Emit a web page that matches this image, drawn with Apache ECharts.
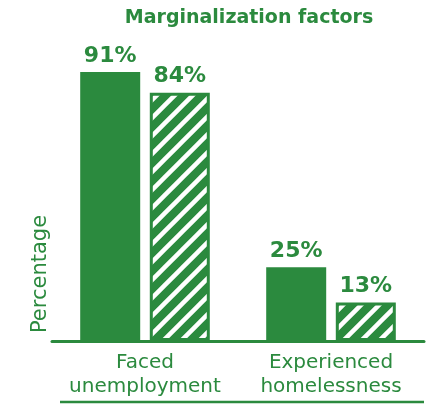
<!DOCTYPE html>
<html>
<head>
<meta charset="utf-8">
<script src="https://cdn.jsdelivr.net/npm/echarts@6/dist/echarts.min.js"></script>
<style>
  html, body { margin: 0; padding: 0; background: #fff; }
  #chart { width: 442px; height: 413px; }
</style>
</head>
<body>
<div id="chart"></div>
<script>
const categories = ['Faced\nunemployment', 'Experienced\nhomelessness']
const solidValues = [91, 25]
const hatchedValues = [84, 13]

const green = '#2b8a3e'
const font = 'DejaVu Sans'

// diagonal white stripes on green
const makeStripes = () => {
  const size = 18
  const c = document.createElement('canvas')
  c.width = size
  c.height = size
  const ctx = c.getContext('2d')
  ctx.fillStyle = green
  ctx.fillRect(0, 0, size, size)
  ctx.strokeStyle = '#fff'
  ctx.lineWidth = 4.5
  ctx.beginPath()
  ctx.moveTo(-size, 2 * size); ctx.lineTo(2 * size, -size)
  ctx.moveTo(-size, size); ctx.lineTo(size, -size)
  ctx.moveTo(0, 2 * size); ctx.lineTo(2 * size, 0)
  ctx.stroke()
  return c
}

const chart = echarts.init(document.getElementById('chart'))
const labelStyle = {
  show: true,
  position: 'top',
  distance: 5,
  color: green,
  fontFamily: font,
  fontWeight: 'bold',
  fontSize: 22,
  formatter: '{c}%'
}

chart.setOption({
  animation: false,
  title: {
    text: 'Marginalization factors',
    left: 244,
    top: 4,
    textAlign: 'center',
    textStyle: { color: green, fontFamily: font, fontWeight: 'bold', fontSize: 19 }
  },
  grid: { left: 52, right: 18, top: 45.5, bottom: 72 },
  xAxis: {
    type: 'category',
    data: categories,
    axisLine: { lineStyle: { color: green, width: 3 } },
    axisTick: { show: false },
    axisLabel: {
      interval: 0,
      color: green,
      fontFamily: font,
      fontSize: 20,
      lineHeight: 24,
      margin: 10
    }
  },
  yAxis: {
    type: 'value',
    min: 0,
    max: 100,
    show: false
  },
  graphic: [
    {
      type: 'text',
      x: 30,
      y: 274,
      rotation: Math.PI / 2,
      style: {
        text: 'Percentage',
        fill: green,
        font: '21px "DejaVu Sans"',
        textAlign: 'center',
        textVerticalAlign: 'top'
      }
    },
    {
      type: 'line',
      shape: { x1: 60, y1: 402, x2: 424, y2: 402 },
      style: { stroke: green, lineWidth: 2.5 }
    }
  ],
  series: [
    {
      name: 'solid',
      type: 'bar',
      data: solidValues,
      barWidth: 60,
      barGap: '16%',
      itemStyle: { color: green },
      label: labelStyle
    },
    {
      name: 'hatched',
      type: 'bar',
      data: hatchedValues,
      barWidth: 60,
      itemStyle: {
        color: { image: makeStripes(), repeat: 'repeat' },
        borderColor: green,
        borderWidth: 3
      },
      label: labelStyle
    }
  ]
})
</script>
</body>
</html>
